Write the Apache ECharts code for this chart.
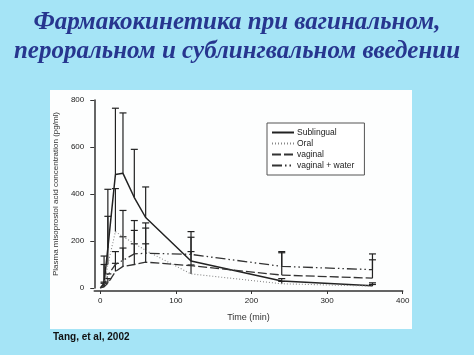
<!DOCTYPE html>
<html><head><meta charset="utf-8">
<script src="https://cdn.jsdelivr.net/npm/echarts@6/dist/echarts.min.js"></script>
<style>html,body{margin:0;padding:0;background:#a5e4f6;}#c{width:474px;height:355px;}</style>
</head><body><div id="c"></div>
<script>
const times = [0, 5, 10, 20, 30, 45, 60, 120, 240, 360];
const sublingual = [0, 20, 170, 483, 488, 385, 300, 115, 30, 10];
const sublingualTop = [null, 136, 420, 765, 745, 590, 430, 240, 40, 15];
const oral = [0, 8, 100, 240, 218, 190, 160, 60, 18, 8];
const oralTop = [null, 100, 305, 423, 330, 287, 277, 98, 28, 22];
const vaginal = [0, 5, 20, 70, 92, 100, 110, 95, 55, 42];
const vaginalTop = [null, 20, 40, 105, 170, 188, 188, 155, 150, 120];
const water = [0, 8, 55, 100, 118, 145, 148, 143, 92, 78];
const waterTop = [null, 25, 60, 155, 218, 245, 255, 216, 155, 145];
const xTicks = [0, 100, 200, 300, 400];

const chart = echarts.init(document.getElementById('c'), null, {renderer: 'canvas'});
function pairs(vals) { return times.map((t, i) => [t, vals[i]]); }
function errData(vals, tops) {
  const d = [];
  times.forEach((t, i) => { if (tops[i] != null) d.push([t, vals[i], tops[i]]); });
  return d;
}
function errSeries(vals, tops) {
  return {
    type: 'custom', silent: true, z: 3,
    data: errData(vals, tops),
    encode: {x: 0, y: [1, 2]},
    renderItem: function (params, api) {
      const a = api.coord([api.value(0), api.value(1)]);
      const b = api.coord([api.value(0), api.value(2)]);
      const st = {stroke: '#222', lineWidth: 1.2};
      return {type: 'group', children: [
        {type: 'line', shape: {x1: a[0], y1: a[1], x2: b[0], y2: b[1]}, style: st},
        {type: 'line', shape: {x1: b[0] - 3.5, y1: b[1], x2: b[0] + 3.5, y2: b[1]}, style: st}
      ]};
    }
  };
}
function lineSeries(name, vals, color, width, type) {
  return {name: name, type: 'line', data: pairs(vals), symbol: 'none', showSymbol: false, z: 4,
    lineStyle: {color: color, width: width, type: type}, itemStyle: {color: color}};
}
chart.setOption({
  backgroundColor: '#a5e4f6',
  animation: false,
  title: {
    text: 'Фармакокинетика при вагинальном,\nпероральном и сублингвальном введении',
    left: 'center', top: 3,
    textStyle: {fontFamily: 'Liberation Serif', fontStyle: 'italic', fontWeight: 'bold',
      fontSize: 25, lineHeight: 29, color: '#27368f'}
  },
  graphic: [
    {type: 'rect', z: -10, shape: {x: 50, y: 90, width: 362, height: 239}, style: {fill: '#fdfefe'}},
    {type: 'text', left: 53, top: 332, style: {text: 'Tang, et al, 2002', fontFamily: 'Liberation Sans',
      fontWeight: 'bold', fontSize: 10, fill: '#111'}}
  ],
  legend: {
    data: ['Sublingual', 'Oral', 'vaginal', 'vaginal + water'],
    orient: 'vertical', left: 267, top: 123,
    backgroundColor: '#fff', borderColor: '#555', borderWidth: 1,
    padding: [5, 10, 5, 4], itemWidth: 22, itemHeight: 7, itemGap: 2,
    itemStyle: {opacity: 0},
    textStyle: {fontFamily: 'Liberation Sans', fontSize: 8.5, color: '#222', padding: [0, 0, 0, -2]}
  },
  grid: {left: 94.25, right: 71.3, top: 100, bottom: 67, containLabel: false},
  xAxis: {
    type: 'value', min: -8, max: 400,
    name: 'Time (min)', nameLocation: 'middle', nameGap: 22,
    nameTextStyle: {fontFamily: 'Liberation Sans', fontSize: 9, color: '#333'},
    offset: 3,
    axisLine: {show: true, onZero: false, lineStyle: {color: '#333', width: 1.5}},
    axisTick: {show: true, length: 3, customValues: xTicks, lineStyle: {color: '#333'}},
    axisLabel: {customValues: xTicks, margin: 6, fontFamily: 'Liberation Sans', fontSize: 8, color: '#222'},
    splitLine: {show: false}
  },
  yAxis: {
    type: 'value', min: 0, max: 800, interval: 200,
    name: 'Plasma misoprostol acid concentration (pg/ml)', nameLocation: 'middle', nameGap: 29,
    nameTextStyle: {fontFamily: 'Liberation Sans', fontSize: 8, color: '#333'},
    axisLine: {show: true, onZero: false, lineStyle: {color: '#333', width: 1.5}},
    axisTick: {show: true, length: 4, lineStyle: {color: '#333'}},
    axisLabel: {margin: 10, fontFamily: 'Liberation Sans', fontSize: 8, color: '#222'},
    splitLine: {show: false}
  },
  series: [
    lineSeries('Sublingual', sublingual, '#222', 1.5, 'solid'),
    lineSeries('Oral', oral, '#888', 1.1, [1, 2]),
    lineSeries('vaginal', vaginal, '#333', 1.3, [9, 3]),
    lineSeries('vaginal + water', water, '#333', 1.3, [10, 3, 1.5, 3, 1.5, 3]),
    errSeries(sublingual, sublingualTop),
    errSeries(oral, oralTop),
    errSeries(vaginal, vaginalTop),
    errSeries(water, waterTop)
  ]
});
</script></body></html>
